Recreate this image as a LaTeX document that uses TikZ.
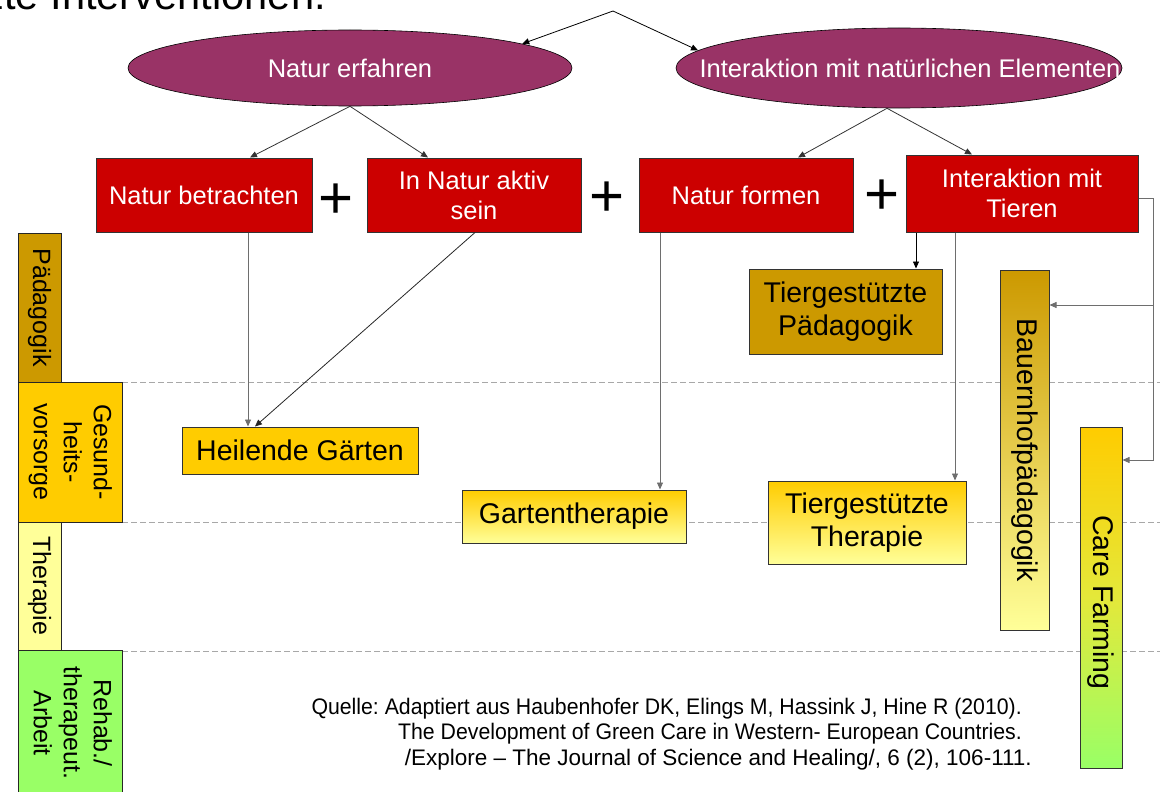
\documentclass[tikz,border=0pt]{standalone}
\usepackage{fontspec}
\usepackage{graphicx}
\setmainfont{Liberation Sans}
\usetikzlibrary{shapes.geometric,arrows.meta,calc}
\frenchspacing
\definecolor{purp}{HTML}{993366}
\definecolor{redbox}{HTML}{CC0000}
\definecolor{goldb}{HTML}{CC9900}
\definecolor{yelb}{HTML}{FFCC00}
\definecolor{lyelb}{HTML}{FFFF99}
\definecolor{lgreenb}{HTML}{99FF66}
\definecolor{midcf}{HTML}{E4E83A}
\definecolor{dashgray}{HTML}{A8A8A8}
\definecolor{linegray}{HTML}{6E6E6E}
\begin{document}
\begin{tikzpicture}[x=1pt,y=-1pt,
  ell/.style={ellipse, draw=black, line width=0.6pt, fill=purp, text=white,
    font=\fontsize{25.5}{29}\selectfont, inner sep=0pt},
  redb/.style={rectangle, draw=black!80, line width=1pt, fill=redbox, text=white,
    font=\fontsize{25.5}{30}\selectfont, align=center, inner sep=0pt},
  yb/.style={rectangle, draw=black!80, line width=1pt,
    font=\fontsize{28.5}{33}\selectfont, align=center, inner sep=0pt},
  barb/.style={rectangle, draw=black!85, line width=1pt, inner sep=0pt,
    font=\fontsize{25}{30}\selectfont},
  conn/.style={line width=0.8pt, -{Triangle[length=7pt,width=6pt]}},
  plusb/.style={font=\fontsize{60}{60}\selectfont, inner sep=0pt},
  srcb/.style={font=\fontsize{22.5}{25.5}\selectfont, inner sep=0pt, anchor=base east},
  sep/.style={dashgray, line width=0.8pt, dash pattern=on 6pt off 3pt}
]
\useasboundingbox (0,0) rectangle (1160,792);
\begin{scope}
\clip (0,0) rectangle (1160,792);

% title (cut off at top, as in the reference)
\node[anchor=base east, inner sep=0pt, font=\fontsize{41.6}{45}\selectfont] (title) at (326,10) {Naturgestützte Interventionen.};

% separator lines
\draw[sep] (122,382) -- (1160,382);
\draw[sep] (122,522) -- (1160,522);
\draw[sep] (122,651) -- (1160,651);

% ellipses
\node[ell, minimum width=444, minimum height=76] (nerf) at (350,68) {\makebox[0pt]{Natur erfahren}};
\node[ell, minimum width=446, minimum height=80] (ninter) at (899,68) {\makebox[0pt]{\hspace{22pt}Interaktion mit natürlichen Elementen}};

% red boxes
\node[redb, minimum width=216, minimum height=74] (b1) at (204,195) {Natur betrachten};
\node[redb, minimum width=214, minimum height=74] (b2) at (474,195) {In Natur aktiv\\sein};
\node[redb, minimum width=214, minimum height=74] (b3) at (746,195) {Natur formen};
\node[redb, minimum width=232, minimum height=77] (b4) at (1022,193.5) {Interaktion mit\\Tieren};

\node[plusb] (p1) at (336,201) {+};
\node[plusb] (p2) at (607,199) {+};
\node[plusb] (p3) at (882,197) {+};

% left bars
\node[barb, fill=goldb, minimum width=43, minimum height=149] (lp) at (39.5,307.5) {\rotatebox{-90}{Pädagogik}};
\node[barb, fill=yelb, minimum width=104, minimum height=140] (lg) at (70,452) {\rotatebox{-90}{\begin{tabular}{@{}c@{}}Gesund-\\heits-\\vorsorge\end{tabular}}};
\node[barb, fill=lyelb, minimum width=43, minimum height=128] (lt) at (39.5,586) {\rotatebox{-90}{Therapie}};
\node[barb, fill=lgreenb, minimum width=104, minimum height=146] (lr) at (70,723) {\rotatebox{-90}{\begin{tabular}{@{}c@{}}Rehab./\\therapeut.\\Arbeit\end{tabular}}};

% target boxes
\node[yb, fill=yelb, minimum width=236, minimum height=47] (hg) at (300,450.5) {Heilende Gärten};
\node[yb, top color=yelb, bottom color=lyelb, minimum width=224, minimum height=53] (gt) at (574,516.5) {Gartentherapie};
\node[yb, fill=goldb, minimum width=193, minimum height=85] (tp) at (845.5,311.5) {Tiergestützte\\Pädagogik};
\node[yb, top color=yelb, bottom color=lyelb, minimum width=198, minimum height=83] (tt) at (867,522.5) {Tiergestützte\\Therapie};
\node[yb, top color=goldb, bottom color=lyelb, minimum width=49, minimum height=360] (bh) at (1024.5,450) {\rotatebox{-90}{Bauernhofpädagogik}};
\node[yb, top color=yelb, bottom color=lgreenb, middle color=midcf, minimum width=42, minimum height=341] (cf) at (1101,597.5) {\rotatebox{-90}{\hspace{10pt}Care Farming}};

% top connectors
\coordinate (apex) at (613,11);
\draw[conn, black] (apex) -- (nerf.8);
\draw[conn, black] (apex) -- (ninter.175);

\draw[conn, black!80] (nerf.south) -- ([xshift=46pt]b1.north);
\draw[conn, black!80] (nerf.south) -- ([xshift=-46pt]b2.north);
\draw[conn, black!80] ([xshift=-12pt]ninter.south) -- ([xshift=52pt]b3.north);
\draw[conn, black!80] ([xshift=-12pt]ninter.south) -- ([xshift=-50pt]b4.north);

% lower connectors
\draw[conn, linegray] ([xshift=44pt]b1.south) -- ([xshift=-52pt]hg.north);
\draw[conn, black!85] ([xshift=1pt]b2.south) -- ([xshift=-45pt]hg.north);
\draw[conn, linegray] ([xshift=-86pt]b3.south) -- ([xshift=86pt]gt.north);
\draw[conn, black] ([xshift=-106pt]b4.south) -- ([xshift=70.5pt]tp.north);
\draw[conn, linegray] ([xshift=-67pt]b4.south) -- ([xshift=88pt]tt.north);

\coordinate (rj) at (1153,198);
\coordinate (cfin) at ([yshift=137.5pt]cf.east);
\coordinate (bhin) at ([yshift=145pt]bh.east);
\draw[conn, linegray] ([yshift=-4.5pt]b4.east) -- (rj) |- (cfin);
\draw[conn, linegray] (rj |- bhin) -- (bhin);

% source
\node[srcb] (s1) at (1022,714) {\scalebox{0.945}[1]{Quelle: Adaptiert aus Haubenhofer DK, Elings M, Hassink J, Hine R (2010).}};
\node[srcb] (s2) at (1022,739.5) {\scalebox{0.945}[1]{The Development of Green Care in Western- European Countries.}};
\node[srcb] (s3) at (1032,765) {/Explore – The Journal of Science and Healing/, 6 (2), 106-111.};
\end{scope}
\end{tikzpicture}
\end{document}
